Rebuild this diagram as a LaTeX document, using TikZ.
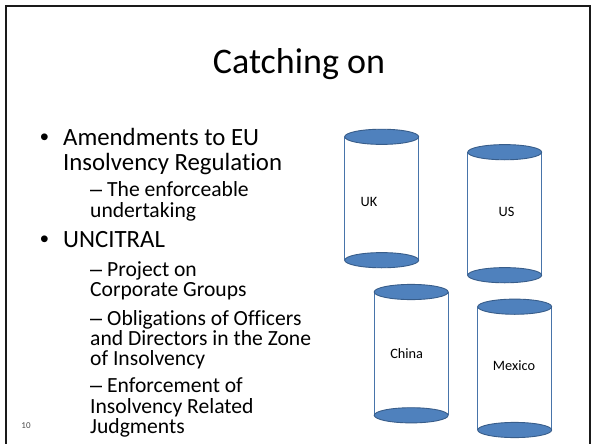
\documentclass[tikz,border=0pt]{standalone}
\usepackage{fontspec}
\setmainfont{Carlito}[Ligatures={NoCommon}]
\newfontfamily\bulfont{Liberation Sans}
\definecolor{canblue}{HTML}{4F81BD}
\definecolor{canedge}{HTML}{385D8A}
\definecolor{frameclr}{HTML}{1A1A1A}
\tikzset{
  frame/.style={draw=frameclr, line width=2pt},
  titletext/.style={font=\fontsize{36}{40}\selectfont, anchor=base, inner sep=0pt},
  lvlone/.style={font=\fontsize{24.8}{25}\selectfont, anchor=base west, inner sep=0pt},
  lvltwo/.style={font=\fontsize{21.6}{20}\selectfont, anchor=base west, inner sep=0pt},
  bulletmark/.style={font=\bulfont\fontsize{24.8}{25}\selectfont, anchor=base west, inner sep=0pt},
  dashmark/.style={font=\bulfont\fontsize{21.6}{20}\selectfont, anchor=base west, inner sep=0pt},
  canlid/.style={fill=canblue, draw=canedge, line width=0.9pt},
  canside/.style={draw=canblue!90!black, line width=0.9pt},
  canlabel/.style={font=\fontsize{14.3}{16}\selectfont, anchor=base, inner sep=0pt},
  pagenum/.style={font=\fontsize{9}{10}\selectfont, anchor=base, inner sep=0pt, text=black!70}
}
\newcommand\drawcan[7]{%
  % #1 name, #2 cx, #3 ytop, #4 ybot, #5 label, #6 lx, #7 ly
  \coordinate (#1tl) at (#2-37,#3);
  \coordinate (#1tr) at (#2+37,#3);
  \coordinate (#1bl) at (#2-37,#4);
  \coordinate (#1br) at (#2+37,#4);
  \draw[canside] (#1tl) -- (#1bl) (#1tr) -- (#1br);
  \draw[canlid] (#2,#3) ellipse [x radius=37pt, y radius=7.6pt];
  \draw[canlid] (#2,#4) ellipse [x radius=37pt, y radius=7.6pt];
  \node[canlabel] (#1lab) at (#6,#7) {#5};
}
\begin{document}
\begin{tikzpicture}[x=1pt,y=-1pt]
\useasboundingbox (0,0) rectangle (594,444);
\fill[white] (0,0) rectangle (594,444);
\clip (0,0) rectangle (594,444);
\draw[frame] (6,6) rectangle (590,480);

\node[titletext] (title) at (299,74) {Catching on};

% level one bullets
\node[bulletmark] (b1dot) at (40,145) {•};
\node[lvlone] (b1a) at (63,145) {Amendments to EU};
\node[lvlone] (b1b) at (63,170) {Insolvency Regulation};
\node[dashmark] (s1dash) at (90,196.5) {–};
\node[lvltwo] (s1a) at (107,196.5) {The enforceable};
\node[lvltwo] (s1b) at (90,217.5) {undertaking};

\node[bulletmark] (b2dot) at (40,247) {•};
\node[lvlone] (b2a) at (63,247) {UNCITRAL};
\node[dashmark] (s2dash) at (90,276.5) {–};
\node[lvltwo] (s2a) at (107,276.5) {Project on};
\node[lvltwo] (s2b) at (90,296.5) {Corporate Groups};
\node[dashmark] (s3dash) at (90,325) {–};
\node[lvltwo] (s3a) at (107,325) {Obligations of Officers};
\node[lvltwo] (s3b) at (90,345) {and Directors in the Zone};
\node[lvltwo] (s3c) at (90,365) {of Insolvency};
\node[dashmark] (s4dash) at (90,392) {–};
\node[lvltwo] (s4a) at (107,392) {Enforcement of};
\node[lvltwo] (s4b) at (90,413) {Insolvency Related};
\node[lvltwo] (s4c) at (90,433) {Judgments};

\node[pagenum] (pnum) at (26,428) {10};

% cylinders
\drawcan{uk}{381.7}{136.8}{260.2}{UK}{369}{206.7}
\drawcan{us}{504.7}{152.2}{275.2}{US}{506.5}{216.7}
\drawcan{cn}{411.2}{292}{415.3}{China}{406.7}{358}
\drawcan{mx}{514.7}{306.7}{430}{Mexico}{514}{370.7}
\end{tikzpicture}
\end{document}
